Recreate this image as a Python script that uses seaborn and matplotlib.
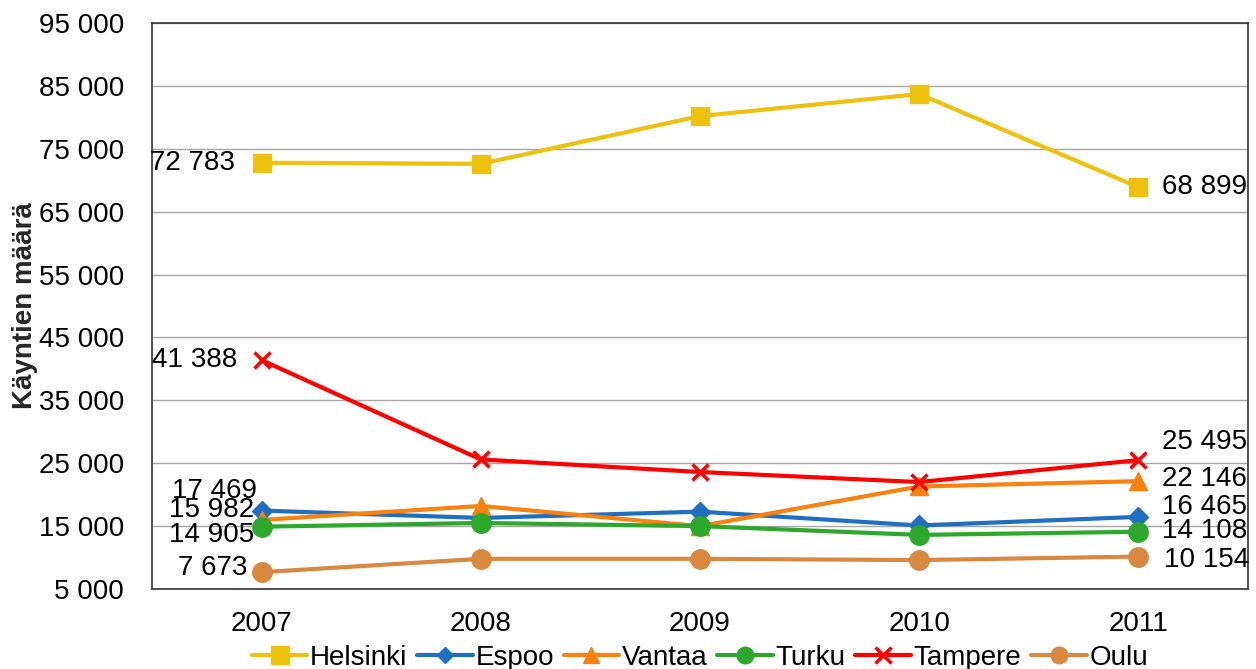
import pandas as pd
import matplotlib
matplotlib.use("Agg")
import matplotlib.pyplot as plt
from matplotlib.lines import Line2D
import seaborn as sns

# Data
years = ["2007", "2008", "2009", "2010", "2011"]
cities = ["Helsinki", "Espoo", "Vantaa", "Turku", "Tampere", "Oulu"]
helsinki = [72783, 72600, 80200, 83700, 68899]
espoo = [17469, 16300, 17300, 15100, 16465]
vantaa = [15982, 18200, 15000, 21300, 22146]
turku = [14905, 15500, 15000, 13600, 14108]
tampere = [41388, 25600, 23600, 22000, 25495]
oulu = [7673, 9800, 9800, 9600, 10154]
values = [helsinki, espoo, vantaa, turku, tampere, oulu]

colors = ["#EDC10E", "#1F6FC0", "#F7820F", "#2DA82D", "#FF0000", "#D98840"]
markers = ["s", "D", "^", "o", "x", "o"]
msizes = [13, 10, 13, 14, 12, 14]
leg_sizes = [13, 8, 11, 12, 11, 12]

# label offsets in pixels (dx, dy) for first and last values
left_off = {"Helsinki": (-27, 0), "Espoo": (-5, 20), "Vantaa": (-7, 10),
            "Turku": (-7, -8), "Tampere": (-24, 0), "Oulu": (-14, 4)}
right_off = {"Helsinki": (24, 0), "Espoo": (24, 10), "Vantaa": (24, 2),
             "Turku": (24, 1), "Tampere": (24, 18), "Oulu": (26, -3)}

rows = []
for city, vals in zip(cities, values):
    for i, v in enumerate(vals):
        rows.append({"city": city, "x": i, "value": v})
df = pd.DataFrame(rows)

sns.set_style("white")
plt.rcParams["font.family"] = ["Liberation Sans", "DejaVu Sans"]
plt.rcParams["text.color"] = "black"

fig = plt.figure(figsize=(12.56, 6.69), dpi=100)
ax = fig.add_axes([0.121, 0.1196, 0.8726, 0.846])

handles = []
for city, col, mk, ms, ls in zip(cities, colors, markers, msizes, leg_sizes):
    sub = df[df["city"] == city]
    mew = 2.5 if mk == "x" else 1
    sns.lineplot(data=sub, x="x", y="value", ax=ax, color=col, marker=mk,
                 markersize=ms, markeredgecolor=col, markeredgewidth=mew,
                 linewidth=3, legend=False)
    handles.append(Line2D([], [], color=col, marker=mk, markersize=ls,
                          markeredgecolor=col, markeredgewidth=mew, linewidth=3))

def fmt(v):
    return f"{v:,}".replace(",", " ")

px = 0.72
for city, vals in zip(cities, values):
    dx, dy = left_off[city]
    ax.annotate(fmt(vals[0]), (0, vals[0]), xytext=(dx * px, dy * px),
                textcoords="offset points", ha="right", va="center", fontsize=20)
    dx, dy = right_off[city]
    ax.annotate(fmt(vals[-1]), (4, vals[-1]), xytext=(dx * px, dy * px),
                textcoords="offset points", ha="left", va="center", fontsize=20)

ax.set_xlim(-0.5, 4.5)
ax.set_ylim(5000, 95000)
ax.set_yticks(range(5000, 95001, 10000))
ax.set_yticklabels([fmt(v) for v in range(5000, 95001, 10000)], fontsize=20)
ax.set_xticks(range(5))
ax.set_xticklabels(years, fontsize=20)
ax.tick_params(axis="y", direction="out", length=4, width=1, color="#888888",
               pad=16, labelcolor="black")
ax.tick_params(axis="x", direction="out", length=6, width=1, color="black",
               pad=10, labelcolor="black")
ax.set_xlabel("")
ax.set_ylabel("Käyntien määrä", fontsize=20, fontweight="bold", labelpad=1)
ax.grid(axis="y", color="#A6A6A6", linewidth=1)
for s in ["left", "bottom", "right", "top"]:
    ax.spines[s].set_color("#404040")
    ax.spines[s].set_linewidth(1.3)

ax.legend(handles, cities, loc="center", bbox_to_anchor=(0.5, -0.122),
          ncol=6, frameon=False, fontsize=20, handlelength=2.0,
          handletextpad=0.1, columnspacing=0.35, borderaxespad=0, borderpad=0)

fig.savefig("out.png", dpi=100)
